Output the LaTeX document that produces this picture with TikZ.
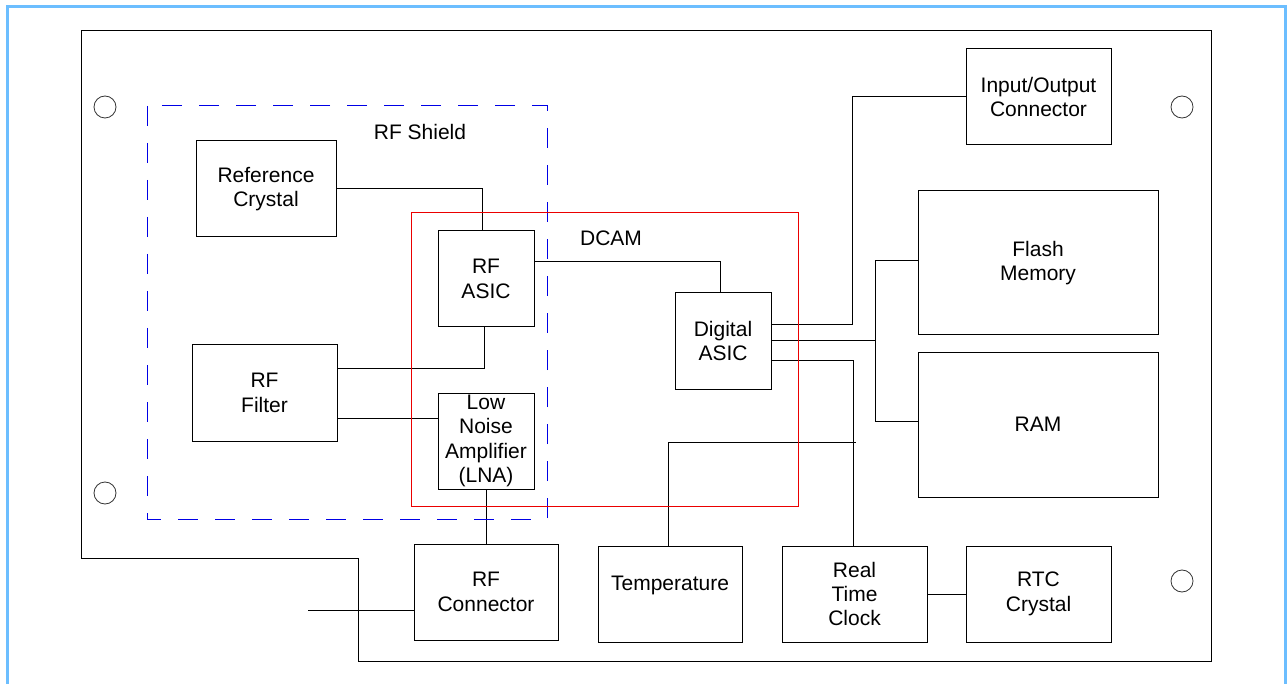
\documentclass[tikz,border=0pt]{standalone}
\usepackage{fontspec}
\setmainfont{Liberation Sans}
\usepackage{xcolor}
\usepackage{tikz}
\usetikzlibrary{positioning,calc}
\definecolor{celeste}{RGB}{108,190,255}
\definecolor{azul}{RGB}{0,0,230}
\definecolor{rojo}{RGB}{235,0,0}

\begin{document}
\begin{tikzpicture}[x=1pt,y=-1pt,line width=1pt,
  modulo/.style={draw,minimum width=145pt,minimum height=96pt,inner sep=0pt,align=center},
  etiqueta/.style={inner sep=0pt,align=center}]
\useasboundingbox (0,0) rectangle (1287,684);
\fontsize{21}{24.4}\selectfont
% marco y placa
\draw[celeste,line width=3pt] (7,684) -- (7,7) -- (1285,7) -- (1285,684);
\draw (81,31) -- (1211,31) -- (1211,661) -- (358,661) -- (358,558) -- (81,558) -- cycle;
\foreach \p in {(105,107),(105,493),(1182,107),(1182,581)}
  \draw[line width=0.8pt,black!80] \p circle (11);
% bloques
\node[modulo,minimum width=140pt] (refx) at (266,189) {Reference\\Crystal};
\node[modulo,minimum width=96pt] (rfasic) at (486,279) {RF\\ASIC};
\node[modulo,minimum width=96pt] (lna) at (486,441) {Low\\Noise\\Amplifier\\(LNA)};
\node[modulo] (rffilter) at (264.5,393) {RF\\Filter};
\node[modulo,minimum width=96pt] (dasic) at (723,341) {Digital\\ASIC};
\node[modulo] (io) at (1038.5,97) {Input/Output\\Connector};
\node[modulo,minimum width=240pt,minimum height=144pt] (flash) at (1038,263) {Flash\\Memory};
\node[modulo,minimum width=240pt,minimum height=145pt] (ram) at (1038,424.5) {RAM};
\node[modulo,minimum width=144pt] (rfconn) at (486,592) {RF\\Connector};
\node[modulo,minimum width=144pt] (temp) at (670,594) {\raisebox{21pt}{Temperature}};
\node[modulo] (rtc) at (854.5,594) {Real\\Time\\Clock};
\node[modulo] (rtcx) at (1038.5,594) {RTC\\Crystal};
% conexiones
\coordinate (rfin) at (308,610);
\coordinate (tbend) at (0,442);
\draw (refx.east) -| ([xshift=-4pt]rfasic.north);
\draw ([yshift=17pt]rfasic.east) -| ([xshift=-3pt]dasic.north);
\draw ([xshift=-2pt]rfasic.south) |- ([yshift=25pt]rffilter.east);
\draw ([yshift=-25pt]rffilter.east) -- ([yshift=-25pt]rffilter.east -| lna.west);
\draw (lna.south) -- (rfconn.north);
\draw (rfin) -- (rfin -| rfconn.west);
\draw ([yshift=16pt]dasic.east) -- ++(81,0) |- (io.west);
\draw (dasic.east) -- ++(104,0) coordinate (bus);
\draw ([yshift=2pt]flash.west) -| (bus) |- ([yshift=3pt]ram.west);
\draw ([yshift=-19pt]dasic.east) -| ([xshift=-1pt]rtc.north);
\draw ([xshift=-2pt]temp.north) |- ([xshift=1pt]rtc.north |- tbend);
\draw (rtc.east) -- (rtcx.west);
% zonas
\draw[azul,dash pattern=on 20pt off 17pt] (147,106) rectangle (547,519);
\node[etiqueta] (shield) at (420,132) {RF Shield};
\draw[rojo] (411,213) rectangle (798,506);
\node[etiqueta] (dcam) at (611,238) {DCAM};
\end{tikzpicture}
\end{document}
